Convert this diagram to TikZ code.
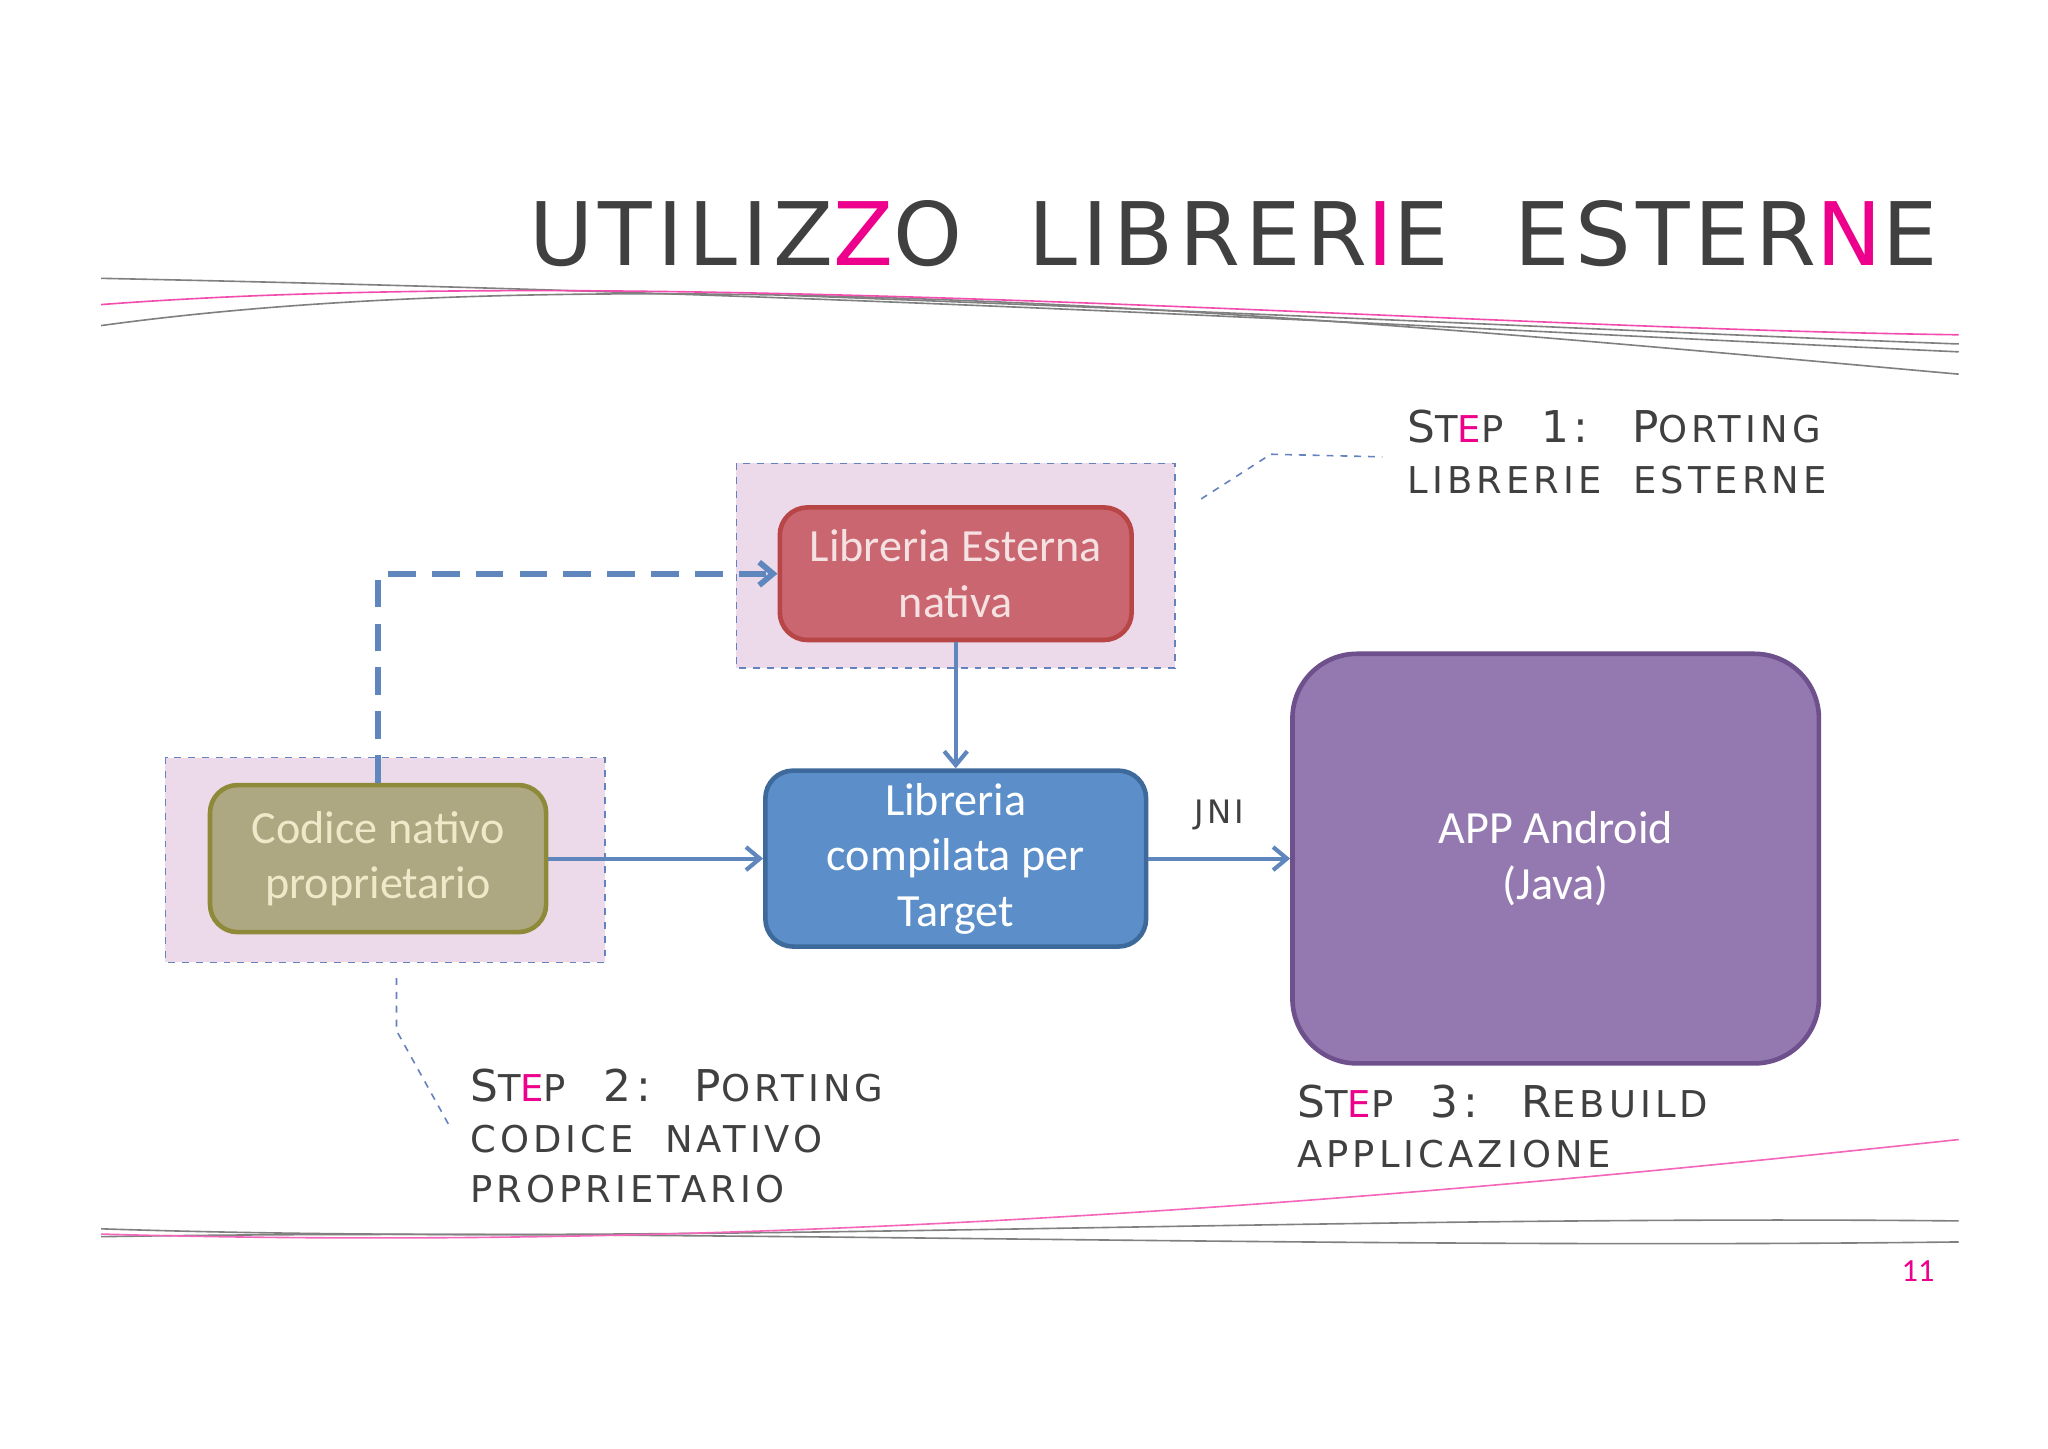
\documentclass[tikz,border=0pt]{standalone}
\usepackage{fontspec}
\usetikzlibrary{arrows.meta}
\setmainfont{Carlito}
\newfontfamily\tf[LetterSpace=11]{DejaVu Sans}
\newfontfamily\ttl[LetterSpace=6]{DejaVu Sans}
\newcommand{\sm}[1]{{\fontsize{16}{19}\selectfont #1}}
\definecolor{cl}{RGB}{100,130,190}
\definecolor{ac}{RGB}{95,135,190}
\begin{document}
\begin{tikzpicture}[x=0.02cm,y=-0.02cm,
  dbox/.style={draw=cl,dashed,fill={rgb,255:red,236;green,218;blue,234},line width=0.7pt},
  nd/.style={rounded corners=12pt,line width=2pt,align=center,font=\fontsize{20}{24}\selectfont},
  ar/.style={-{Straight Barb[length=6pt,width=10pt]},draw=ac,line width=1.8pt},
  steplbl/.style={font=\tf\fontsize{19}{23}\selectfont,align=left,anchor=north west,text=black!75},
  tl/.style={line width=0.7pt}]
\useasboundingbox (0,0) rectangle (1560,1103);
\fill[white] (0,0) rectangle (1560,1103);
% title
\node[anchor=east,font=\ttl\fontsize{38}{42}\selectfont,text=black!75] (title) at (1482,178)
 {UTILIZ\textcolor{magenta}{Z}O \ LIBRER\textcolor{magenta}{I}E \ ESTER\textcolor{magenta}{N}E};
% decorative lines top
\draw[tl,gray] (77,212) .. controls (700,225) and (1100,250) .. (1492,268);
\draw[tl,gray] (77,248) .. controls (500,190) and (1100,250) .. (1492,285);
\draw[tl,magenta!70] (77,232) .. controls (500,200) and (1100,250) .. (1492,255);
\draw[tl,gray] (600,225) .. controls (1000,240) and (1300,255) .. (1492,262);
% decorative lines bottom
\draw[tl,gray] (77,936) .. controls (500,950) and (1000,925) .. (1492,930);
\draw[tl,gray] (77,942) .. controls (500,935) and (1000,952) .. (1492,946);
\draw[tl,magenta!60] (77,940) .. controls (600,955) and (1100,910) .. (1492,868);
% dashed boxes
\draw[dbox] (561,353) rectangle (895,509);
\draw[dbox] (126,577) rectangle (461,733);
% nodes
\node[nd,draw=red!45!gray,fill={rgb,255:red,201;green,102;blue,112},text={rgb,255:red,245;green,225;blue,225},minimum width=268*0.02cm,minimum height=101*0.02cm] (lib) at (728,437) {Libreria Esterna\\nativa};
\node[nd,draw=olive!60!gray,fill={rgb,255:red,174;green,168;blue,130},text={rgb,255:red,240;green,232;blue,200},minimum width=256*0.02cm,minimum height=112*0.02cm] (cod) at (288,654) {Codice nativo\\proprietario};
\node[nd,draw={rgb,255:red,61;green,106;blue,154},fill={rgb,255:red,92;green,143;blue,201},text=white,minimum width=290*0.02cm,minimum height=134*0.02cm] (comp) at (728,654) {Libreria\\compilata per\\Target};
\node[nd,rounded corners=28pt,draw={rgb,255:red,110;green,80;blue,140},fill={rgb,255:red,148;green,121;blue,176},text=white,minimum width=401*0.02cm,minimum height=312*0.02cm] (app) at (1185,654) {APP Android\\(Java)};
% arrows
\draw[ar] (lib.south) -- (comp.north);
\draw[ar] (cod.east) -- (comp.west);
\draw[ar] (comp.east) -- node[above=8pt,font=\tf\fontsize{14}{16}\selectfont,text=black!75]{JNI} (app.west);
\coordinate (bend) at (288,437);
\draw[ar,dash pattern=on 12pt off 7pt,line width=2.5pt] (cod.north) -- (bend) -- (lib.west);
% callouts
\coordinate (c1a) at (915,380); \coordinate (c1b) at (968,346); \coordinate (c1c) at (1053,348);
\draw[cl,dashed,line width=0.7pt] (c1a) -- (c1b) -- (c1c);
\coordinate (c2a) at (302,745); \coordinate (c2b) at (302,785); \coordinate (c2c) at (342,857);
\draw[cl,dashed,line width=0.7pt] (c2a) -- (c2b) -- (c2c);
% step labels
\node[steplbl] (s1) at (1066,306) {S\sm{T}\textcolor{magenta}{\sm{E}}\sm{P} \ 1: \ P\sm{ORTING}\\[-1pt]\sm{LIBRERIE \ ESTERNE}};
\node[steplbl] (s2) at (352,808) {S\sm{T}\textcolor{magenta}{\sm{E}}\sm{P} \ 2: \ P\sm{ORTING}\\[-1pt]\sm{CODICE \ NATIVO}\\[-1pt]\sm{PROPRIETARIO}};
\node[steplbl] (s3) at (982,820) {S\sm{T}\textcolor{magenta}{\sm{E}}\sm{P} \ 3: \ R\sm{EBUILD}\\[-1pt]\sm{APPLICAZIONE}};
\node[text=magenta,font=\fontsize{14}{16}\selectfont] (pg) at (1461,968) {11};
\end{tikzpicture}
\end{document}
